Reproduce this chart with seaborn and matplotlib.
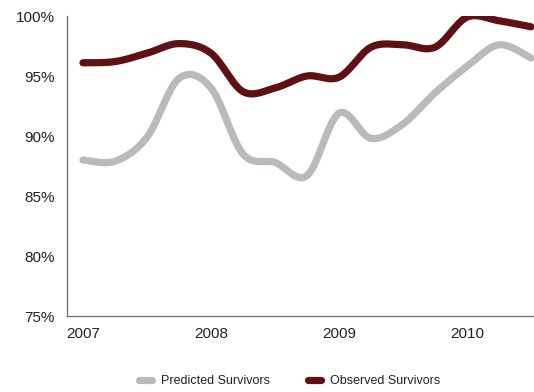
import numpy as np
import pandas as pd
import matplotlib
matplotlib.use("Agg")
import matplotlib.pyplot as plt
from matplotlib.ticker import PercentFormatter, FixedLocator
from matplotlib.lines import Line2D
import seaborn as sns

# Quarterly survival rates, 2007 Q1 .. 2010 Q3
quarters = ["2007 Q1", "2007 Q2", "2007 Q3", "2007 Q4",
            "2008 Q1", "2008 Q2", "2008 Q3", "2008 Q4",
            "2009 Q1", "2009 Q2", "2009 Q3", "2009 Q4",
            "2010 Q1", "2010 Q2", "2010 Q3"]
predicted = [0.880, 0.879, 0.899, 0.948, 0.940, 0.885, 0.878, 0.867,
             0.919, 0.898, 0.910, 0.936, 0.958, 0.976, 0.965]
observed = [0.961, 0.962, 0.969, 0.977, 0.969, 0.937, 0.940, 0.950,
            0.949, 0.974, 0.976, 0.974, 0.999, 0.996, 0.991]
year_labels = ["2007", "2008", "2009", "2010"]

series_names = ["Predicted Survivors", "Observed Survivors"]
series_colors = ["#b9bbba", "#5e1014"]


def smooth(xs, ys, n=40):
    """Bezier smoothing through every point (spreadsheet-style smoothed line)."""
    xs = np.asarray(xs, float)
    ys = np.asarray(ys, float)
    px, py = [], []
    m = len(xs)
    for i in range(m - 1):
        i0, i3 = max(i - 1, 0), min(i + 2, m - 1)
        p0 = np.array([xs[i], ys[i]])
        p3 = np.array([xs[i + 1], ys[i + 1]])
        c1 = p0 + (np.array([xs[i + 1], ys[i + 1]]) - np.array([xs[i0], ys[i0]])) / 6
        c2 = p3 - (np.array([xs[i3], ys[i3]]) - np.array([xs[i], ys[i]])) / 6
        t = np.linspace(0, 1, n, endpoint=(i == m - 2))[:, None]
        pts = ((1 - t) ** 3) * p0 + 3 * ((1 - t) ** 2) * t * c1 + 3 * (1 - t) * t ** 2 * c2 + t ** 3 * p3
        px.extend(pts[:, 0])
        py.extend(pts[:, 1])
    return np.array(px), np.array(py)


sns.set_style("white")
plt.rcParams["font.family"] = ["Liberation Sans", "DejaVu Sans"]

fig = plt.figure(figsize=(5.34, 3.92), dpi=100)
ax = fig.add_axes([67 / 534, 76 / 392, 480 / 534, 300 / 392])

pos = np.arange(len(quarters)) + 0.5
frames = []
for name, vals in zip(series_names, [predicted, observed]):
    sx, sy = smooth(pos, vals)
    frames.append(pd.DataFrame({"x": sx, "y": sy, "series": name}))
df = pd.concat(frames, ignore_index=True)

sns.lineplot(data=df, x="x", y="y", hue="series", palette=series_colors,
             hue_order=series_names, sort=False, estimator=None, units="series",
             linewidth=5.2, ax=ax, legend=False,
             solid_capstyle="round", solid_joinstyle="round")

ax.set_xlim(0, len(quarters))
ax.set_ylim(0.75, 1.0)
ax.yaxis.set_major_locator(FixedLocator([0.75, 0.80, 0.85, 0.90, 0.95, 1.00]))
ax.yaxis.set_major_formatter(PercentFormatter(1.0, decimals=0))

ax.set_xticks(pos[::4])
ax.set_xticklabels(year_labels)
ax.set_xticks(np.arange(0, len(quarters) + 1), minor=True)
ax.tick_params(axis="x", which="major", length=0, pad=8, labelsize=11, labelcolor="#222222")
ax.tick_params(axis="x", which="minor", length=3, width=0.8, color="#555555", direction="out")
ax.tick_params(axis="y", which="major", length=3, width=0.8, color="#555555", direction="out",
               pad=6, labelsize=11, labelcolor="#222222")
ax.set_xlabel("")
ax.set_ylabel("")

for side in ["top", "right"]:
    ax.spines[side].set_visible(False)
for side in ["left", "bottom"]:
    ax.spines[side].set_color("#777777")
    ax.spines[side].set_linewidth(1.0)
ax.grid(False)

handles = [Line2D([0], [0], color=c, linewidth=5.2, solid_capstyle="round") for c in series_colors]
fig.legend(handles, series_names, loc="center", bbox_to_anchor=(0.542, 0.028), ncol=2,
           frameon=False, handlelength=1.05, handletextpad=0.75, columnspacing=3.0,
           prop={"family": ["Liberation Sans", "DejaVu Sans"], "size": 9}, labelcolor="#222222")

fig.savefig("out.png", dpi=100)
